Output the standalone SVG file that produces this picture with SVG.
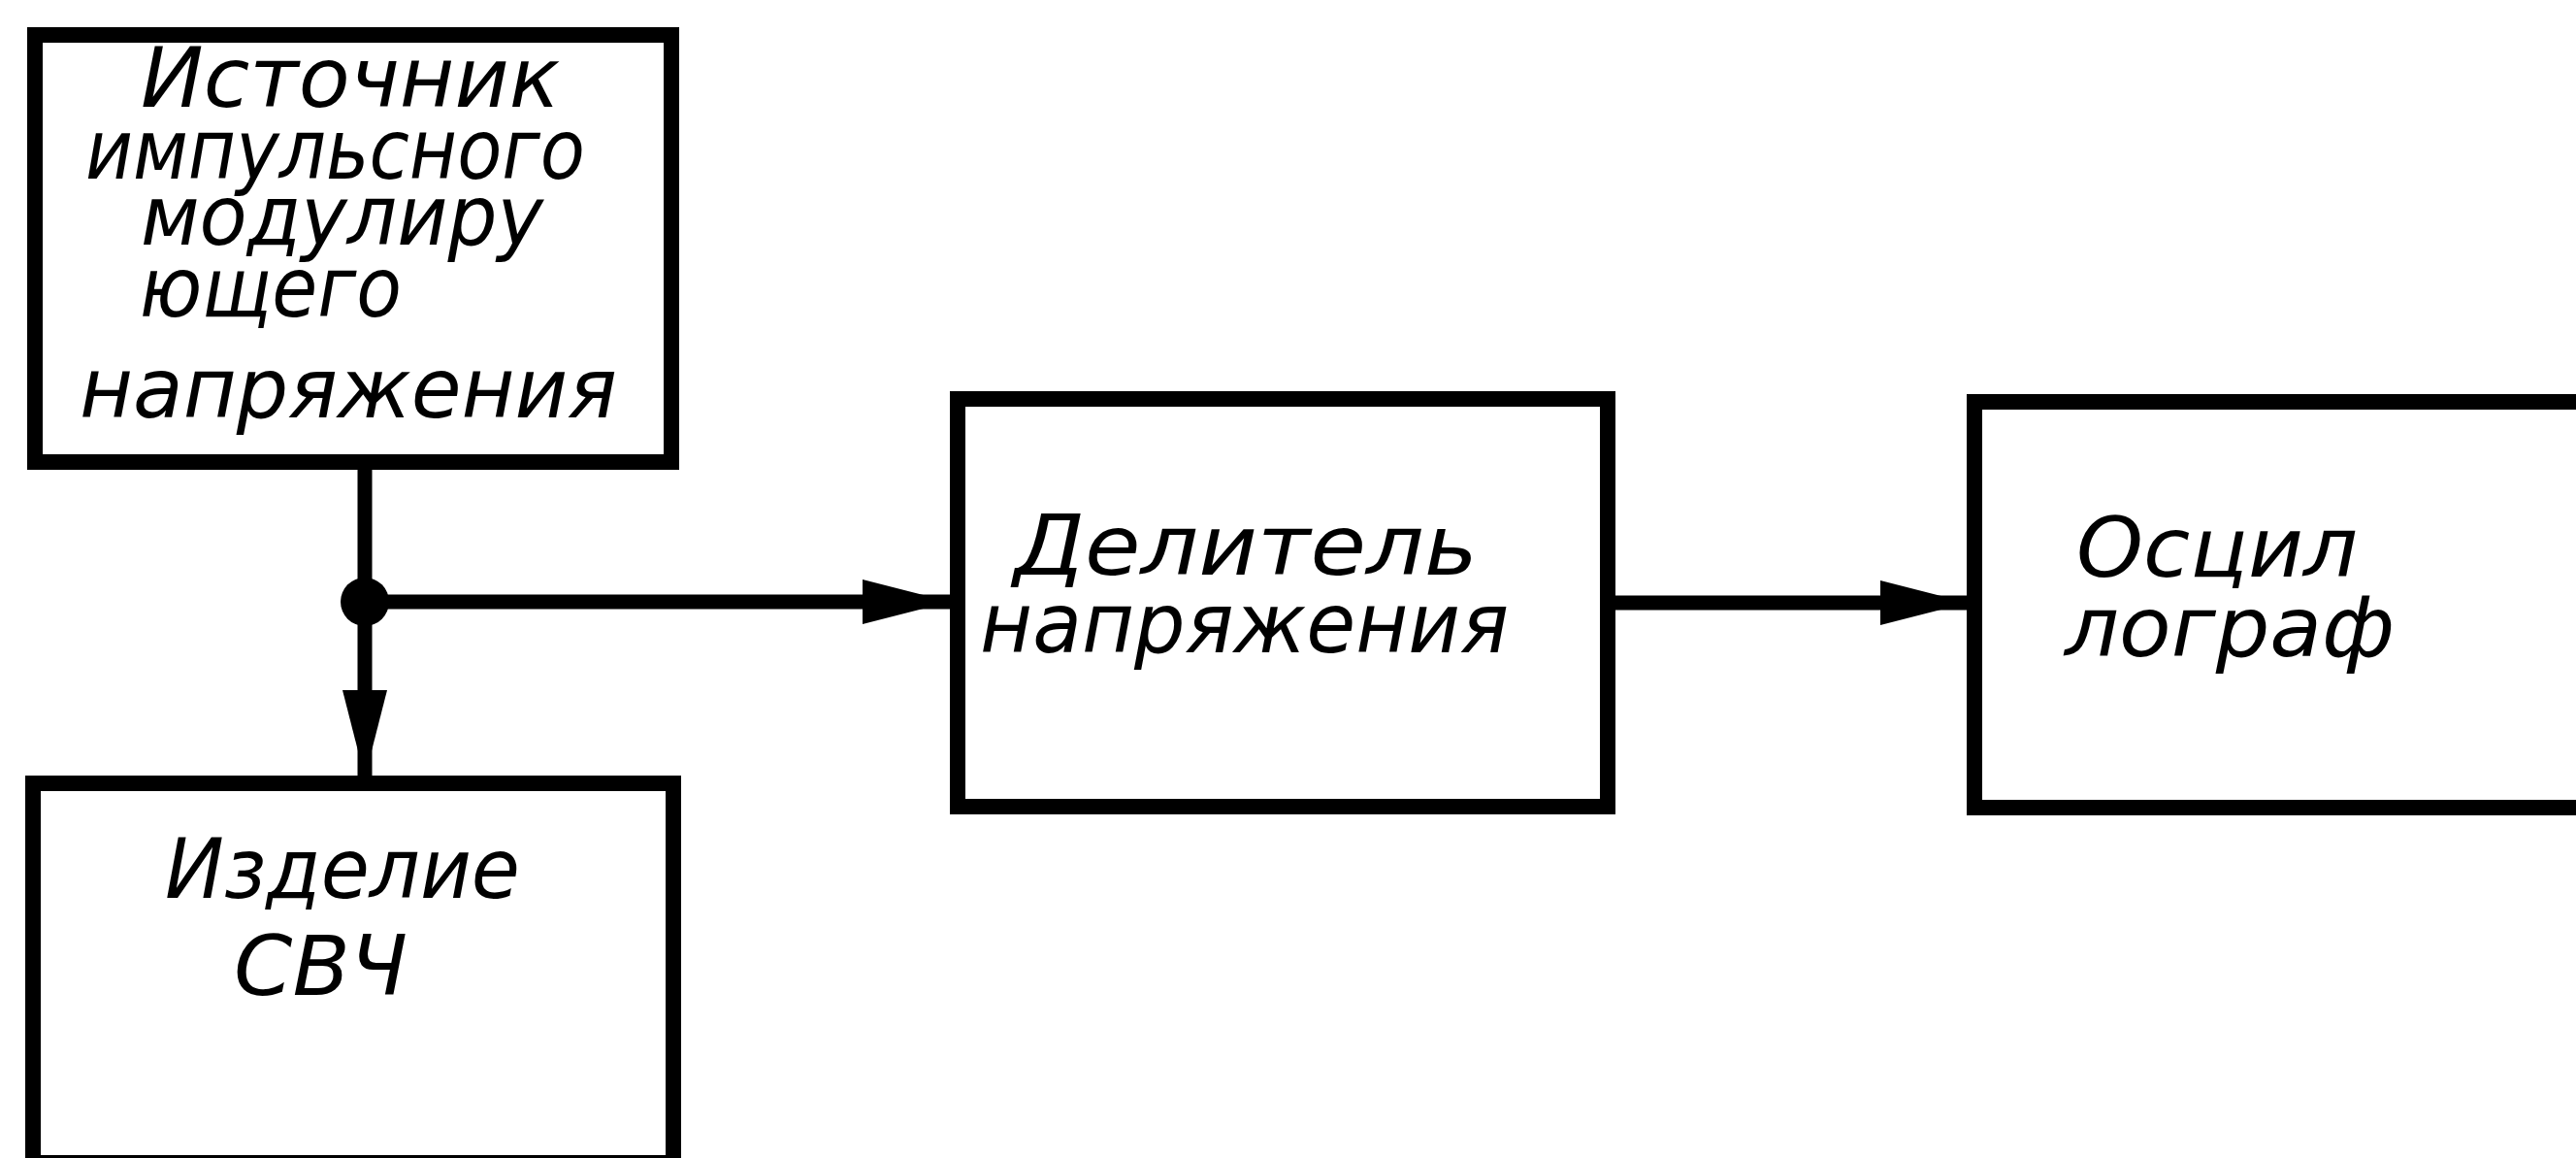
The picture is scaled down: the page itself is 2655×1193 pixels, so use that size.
<svg xmlns="http://www.w3.org/2000/svg" width="2655" height="1193" viewBox="0 0 2655 1193">
<style>
.box{fill:none;stroke:#000;stroke-width:16;stroke-linejoin:miter}
.lbl{font-family:"DejaVu Sans","Liberation Sans",sans-serif;font-style:italic;font-size:86px;fill:#000}
.wire{stroke:#000;stroke-width:15;fill:none}
</style>
<defs>
<marker id="arr" viewBox="0 0 90 46" refX="90" refY="23" markerWidth="90" markerHeight="46" markerUnits="userSpaceOnUse" orient="auto">
<path d="M0,0 L90,23 L0,46 Z" fill="#000"/>
</marker>
</defs>
<rect width="2655" height="1193" fill="#fff"/>
<g id="connectors">
<line class="wire" x1="376" y1="476" x2="376" y2="801" marker-end="url(#arr)"/>
<line class="wire" x1="376" y1="620" x2="979" y2="620" marker-end="url(#arr)"/>
<line class="wire" x1="1657" y1="621" x2="2028" y2="621" marker-end="url(#arr)"/>
<circle cx="376" cy="620" r="25" fill="#000"/>
</g>
<g id="source">
<rect class="box" x="36" y="36" width="656" height="440"/>
<text class="lbl" x="145" y="110" textLength="432" lengthAdjust="spacingAndGlyphs">Источник</text>
<text class="lbl" x="88" y="184" textLength="515" lengthAdjust="spacingAndGlyphs">импульсного</text>
<text class="lbl" x="145" y="252" textLength="415" lengthAdjust="spacingAndGlyphs">модулиру</text>
<text class="lbl" x="144" y="326" textLength="270" lengthAdjust="spacingAndGlyphs">ющего</text>
<text class="lbl" x="82" y="430" textLength="554" lengthAdjust="spacingAndGlyphs">напряжения</text>
</g>
<g id="device">
<rect class="box" x="34" y="807" width="660" height="391"/>
<text class="lbl" x="170" y="925" textLength="366" lengthAdjust="spacingAndGlyphs">Изделие</text>
<text class="lbl" x="241" y="1025" textLength="179" lengthAdjust="spacingAndGlyphs">СВЧ</text>
</g>
<g id="divider">
<rect class="box" x="987" y="411" width="670" height="420"/>
<text class="lbl" x="1045" y="592" textLength="478" lengthAdjust="spacingAndGlyphs">Делитель</text>
<text class="lbl" x="1010" y="672" textLength="545" lengthAdjust="spacingAndGlyphs">напряжения</text>
</g>
<g id="scope">
<rect class="box" x="2035" y="414" width="640" height="418"/>
<text class="lbl" x="2140" y="594" textLength="290" lengthAdjust="spacingAndGlyphs">Осцил</text>
<text class="lbl" x="2128" y="676" textLength="340" lengthAdjust="spacingAndGlyphs">лограф</text>
</g>
</svg>
